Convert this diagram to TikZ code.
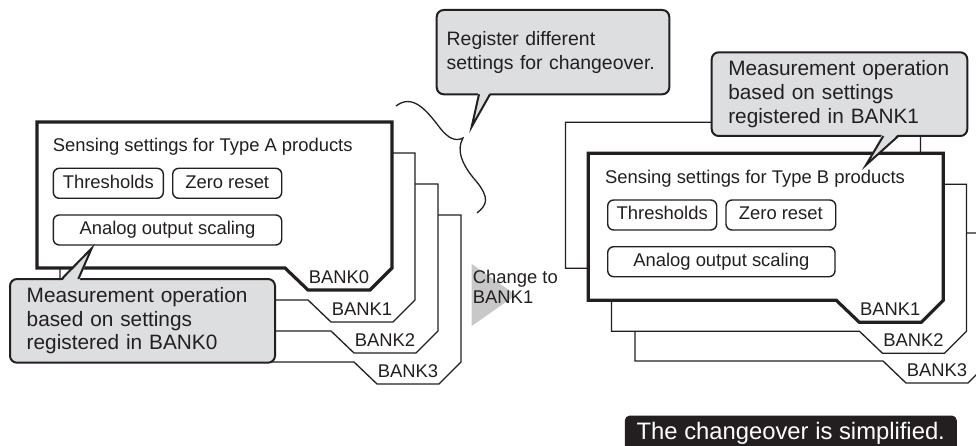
\documentclass[tikz,border=0pt]{standalone}
\usepackage{fontspec}
\setmainfont{Liberation Sans}
\usepackage{tikz}
\usetikzlibrary{calc}

\definecolor{ink}{RGB}{35,31,32}
\definecolor{bubblegray}{RGB}{221,222,224}
\definecolor{changegray}{RGB}{200,200,200}

\newcommand{\bankcard}[5][backcard]{%
    \draw [#1] (#2,#3) -- ++(355,0) -- ++(0,#4) -- ++(-22,22)
        -- node [banklabel] {BANK#5} ++(-62,0)
        -- ++(-23,-22) -- ++(-248,0) -- cycle;}

\begin{document}
\begin{tikzpicture}[x=1pt, y=-1pt,
        backcard/.style={draw=ink, fill=white, line width=1.3pt},
        frontcard/.style={draw=ink, fill=white, line width=3.2pt},
        banklabel/.style={anchor=base, yshift=7pt, inner sep=0pt, text=ink,
            font=\fontsize{18.4}{21}\selectfont},
        cardtitle/.style={anchor=base west, inner sep=0pt, text=ink,
            font=\fontsize{18.4}{21}\selectfont},
        setbox/.style={draw=ink, fill=white, line width=1.4pt, rounded corners=6pt,
            anchor=north west, outer sep=0pt, inner sep=0pt, minimum height=30pt,
            text height=13.5pt, text depth=3.5pt, text=ink,
            font=\fontsize{18.4}{21}\selectfont},
        bubblebox/.style={draw=ink, fill=bubblegray, line width=2pt, rounded corners=7pt,
            anchor=north west, outer sep=0pt, inner ysep=0pt, align=left, text=ink,
            font=\fontsize{20.8}{23.6}\selectfont},
        pointer/.style={draw=ink, line width=2pt, line join=miter},
        brace/.style={draw=ink, line width=1.3pt},
        banner/.style={fill=ink, rounded corners=5pt, text=white, anchor=north,
            outer sep=0pt, inner xsep=0pt, inner ysep=6.8pt, minimum width=332pt,
            text height=17pt, text depth=20pt, font=\fontsize{23.8}{26}\selectfont}
    ]
    \useasboundingbox (0,0) rectangle (976,446);
    \clip (0,0) rectangle (976,446);

    \bankcard{106}{215}{147}{3}
    \bankcard{83}{184}{147}{2}
    \bankcard{60}{153}{147}{1}
    \bankcard[frontcard]{37}{122}{146}{0}

    \node [cardtitle] (atitle) at (52.7,151.7) {Sensing settings for Type A products};
    \node [setbox, minimum width=110pt] (athr) at (53.3,168.3) {Thresholds};
    \node [setbox, minimum width=109pt] (azero) at (172.7,168.3) {Zero reset};
    \node [setbox, minimum width=228.4pt] (aana) at (53.3,215) {Analog output scaling};

    \bankcard{635}{233}{128}{3}
    \bankcard{611.5}{184.3}{147}{2}
    \bankcard{565.5}{122.3}{146}{0}
    \bankcard[frontcard]{588.3}{153.3}{147}{1}

    \node [cardtitle] (btitle) at (605,183.3) {Sensing settings for Type B products};
    \node [setbox, minimum width=109pt] (bthr) at (607.7,200) {Thresholds};
    \node [setbox, minimum width=109.7pt] (bzero) at (726,200) {Zero reset};
    \node [setbox, minimum width=227.3pt] (bana) at (607.7,246.7) {Analog output scaling};

    \fill [changegray] (471.7,264) -- (471.7,326) -- (516,295) -- cycle;
    \node [anchor=west, inner sep=0pt, align=left, text=ink,
        font=\fontsize{18.4}{20}\selectfont] (change) at (472.7,286.6) {Change to\\BANK1};

    \draw [brace] (396,106) .. controls (412,94) and (425,108) .. (440,128)
        .. controls (448,138) and (455,142) .. (463,138)
        .. controls (456,150) and (462,165) .. (476,181)
        .. controls (490,198) and (487,205) .. (477,213);

    \node [bubblebox, minimum width=265pt, minimum height=83.7pt, inner xsep=16.7pt,
        text width=231.6pt] (lcall) at (10,279)
        {Measurement operation\\based on settings\\registered in BANK0};
    \coordinate (ltip) at (91.7,248.3);
    \fill [bubblegray] ($(lcall.north west)+(51,3)$) -- (ltip) -- ($(lcall.north west)+(69,3)$) -- cycle;
    \draw [pointer] ($(lcall.north west)+(51.7,0)$) -- (ltip) -- ($(lcall.north west)+(68.3,0)$);

    \node [bubblebox, minimum width=255.6pt, minimum height=83.7pt, inner xsep=16.6pt,
        text width=222.4pt] (rcall) at (711.7,52.3)
        {Measurement operation\\based on settings\\registered in BANK1};
    \coordinate (rtip) at (866,165);
    \fill [bubblegray] ($(rcall.south west)+(171,-3)$) -- (rtip) -- ($(rcall.south west)+(187.5,-3)$) -- cycle;
    \draw [pointer] ($(rcall.south west)+(171.6,0)$) -- (rtip) -- ($(rcall.south west)+(186.6,0)$);

    \node [bubblebox, minimum width=232.6pt, minimum height=84.3pt, inner xsep=10pt,
        text width=212.6pt, font=\fontsize{19.4}{24}\selectfont] (tcall) at (436.7,10)
        {Register different\\settings for changeover.};
    \coordinate (ttip) at (471.7,126.7);
    \fill [bubblegray] ($(tcall.south west)+(41.8,-3)$) -- (ttip) -- ($(tcall.south west)+(54,-3)$) -- cycle;
    \draw [pointer] ($(tcall.south west)+(42.3,0)$) -- (ttip) -- ($(tcall.south west)+(53.3,0)$);

    \node [banner] (note) at (790.8,415.5) {The changeover is simplified.};
\end{tikzpicture}
\end{document}
